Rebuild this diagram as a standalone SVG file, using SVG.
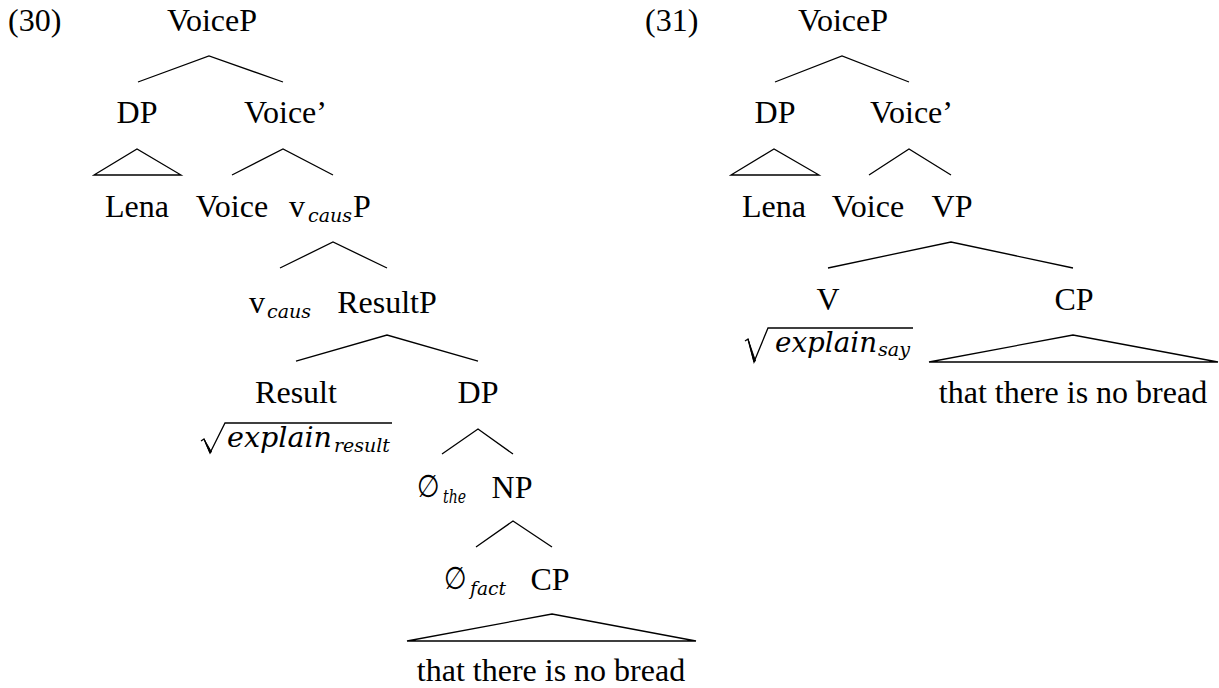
<svg xmlns="http://www.w3.org/2000/svg" width="1219" height="688" viewBox="0 0 1219 688">
<style>
text{font-family:"Liberation Serif","Times New Roman",serif;font-size:32px;fill:#000}
.m{text-anchor:middle}
.it{font-family:"DejaVu Serif","Liberation Serif",serif;font-style:italic;font-size:28px}
.sub{font-family:"DejaVu Serif","Liberation Serif",serif;font-style:italic;font-size:19px}
.es{font-family:"DejaVu Sans","DejaVu Serif",sans-serif;font-size:26px}
.ln{fill:none;stroke:#000;stroke-width:1.3;stroke-linejoin:miter}
</style>
<rect width="1219" height="688" fill="#fff"/>
<g id="connectors">
<polyline class="ln" points="138,82 209,56 283,82"/>
<polygon class="ln" points="94,175 137,149 181,175"/>
<polyline class="ln" points="232,175 283,149 333,175"/>
<polyline class="ln" points="280,268 333,242 387,268"/>
<polyline class="ln" points="296,361 387,335 478,361"/>
<polyline class="ln" points="442,454 478,429 513,454"/>
<polyline class="ln" points="476,547 513,521 552,547"/>
<polygon class="ln" points="407,641 552,614 696,641"/>
<polyline class="ln" points="775,82 842,56 909,82"/>
<polygon class="ln" points="731,175 774,149 819,175"/>
<polyline class="ln" points="869,175 909,149 951,175"/>
<polyline class="ln" points="828,268 951,242 1073,268"/>
<polygon class="ln" points="929,362 1073,335 1218,362"/>
</g>
<g id="ex30"><text x="8" y="31">(30)</text></g>
<g id="n30-voicep"><text class="m" x="212" y="31">VoiceP</text></g>
<g id="n30-dp"><text class="m" x="137" y="123">DP</text></g>
<g id="n30-voicebar"><text x="244" y="123">Voice’</text></g>
<g id="n30-lena"><text class="m" x="137" y="217">Lena</text></g>
<g id="n30-voice"><text class="m" x="232" y="217">Voice</text></g>
<g id="n30-vcausp"><text x="289" y="217">v<tspan class="sub" x="308" dy="5" textLength="44" lengthAdjust="spacingAndGlyphs">caus</tspan><tspan x="353" dy="-5">P</tspan></text></g>
<g id="n30-vcaus"><text x="249" y="313">v<tspan class="sub" x="267" dy="5" textLength="44" lengthAdjust="spacingAndGlyphs">caus</tspan></text></g>
<g id="n30-resultp"><text class="m" x="387" y="313">ResultP</text></g>
<g id="n30-result"><text class="m" x="296" y="403">Result</text>
<path class="ln" d="M201,441 L204,439 L210,453 L225,423 H392"/>
<path d="M204,439 L210,453 L211.5,452 Z" fill="#000" stroke="#000" stroke-width="1"/>
<text class="it" x="227" y="447"><tspan textLength="105" lengthAdjust="spacingAndGlyphs">explain</tspan><tspan class="sub" x="334" dy="5" textLength="56" lengthAdjust="spacingAndGlyphs">result</tspan></text></g>
<g id="n30-dp2"><text class="m" x="478" y="403">DP</text></g>
<g id="n30-the"><text class="es" transform="translate(417,497) scale(1,1.2)">∅</text><text class="sub" x="443" y="503" textLength="23" lengthAdjust="spacingAndGlyphs">the</text></g>
<g id="n30-np"><text class="m" x="512" y="498">NP</text></g>
<g id="n30-fact"><text class="es" transform="translate(444,589) scale(1,1.2)">∅</text><text class="sub" x="470" y="595" textLength="36" lengthAdjust="spacingAndGlyphs">fact</text></g>
<g id="n30-cp"><text class="m" x="550" y="590">CP</text></g>
<g id="n30-clause"><text class="m" x="551" y="681">that there is no bread</text></g>
<g id="ex31"><text x="645" y="31">(31)</text></g>
<g id="n31-voicep"><text class="m" x="843" y="31">VoiceP</text></g>
<g id="n31-dp"><text class="m" x="775" y="123">DP</text></g>
<g id="n31-voicebar"><text x="870" y="123">Voice’</text></g>
<g id="n31-lena"><text class="m" x="774" y="217">Lena</text></g>
<g id="n31-voice"><text class="m" x="868" y="217">Voice</text></g>
<g id="n31-vp"><text class="m" x="952" y="217">VP</text></g>
<g id="n31-v"><text class="m" x="828" y="310">V</text>
<path class="ln" d="M745,341 L748,339 L754,362 L768,328 H913"/>
<path d="M748,339 L754,362 L755.5,361 Z" fill="#000" stroke="#000" stroke-width="1"/>
<text class="it" x="775" y="352"><tspan textLength="102" lengthAdjust="spacingAndGlyphs">explain</tspan><tspan class="sub" x="878" dy="4" textLength="32" lengthAdjust="spacingAndGlyphs">say</tspan></text></g>
<g id="n31-cp"><text class="m" x="1074" y="310">CP</text></g>
<g id="n31-clause"><text class="m" x="1073" y="403">that there is no bread</text></g>
</svg>
